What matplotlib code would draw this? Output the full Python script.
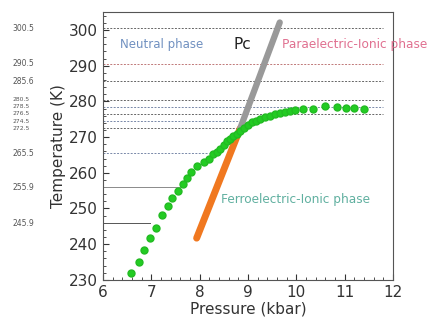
import numpy as np
import matplotlib
matplotlib.use('Agg')
import matplotlib.pyplot as plt
from matplotlib.ticker import MultipleLocator

# 相転移点 (green dots)
p_green = [6.59, 6.75, 6.85, 6.97, 7.10, 7.22, 7.35, 7.44, 7.55, 7.66, 7.75, 7.83,
           7.94, 8.09, 8.20, 8.28, 8.36, 8.42, 8.50, 8.56, 8.63, 8.70, 8.77, 8.84,
           8.92, 9.00, 9.08, 9.16, 9.25, 9.35, 9.46, 9.56, 9.66, 9.76, 9.87, 9.97,
           10.15, 10.35, 10.60, 10.84, 11.04, 11.20, 11.40]
t_green = [232.0, 235.1, 238.4, 241.6, 244.6, 248.1, 250.7, 253.0, 254.9, 256.8, 258.5, 260.1,
           261.9, 262.9, 264.0, 265.2, 265.8, 266.6, 267.8, 268.9, 269.6, 270.3, 270.9, 271.6,
           272.5, 273.4, 274.1, 274.6, 275.0, 275.5, 275.9, 276.4, 276.8, 277.1, 277.4, 277.7,
           277.9, 278.0, 278.6, 278.4, 278.2, 278.2, 277.9]

# 直線 (orange: ferro boundary, gray: neutral/para boundary)
p_orange = [7.94, 8.84]
t_orange = [241.7, 272.4]
p_gray = [8.84, 9.66]
t_gray = [272.4, 302.1]

# 参照温度線
ref_temps = [300.5, 290.5, 285.6, 280.5, 278.5, 276.5, 274.5, 272.5, 265.5, 255.9, 245.9]
ref_xmax = [11.8, 11.8, 11.8, 11.8, 11.8, 11.8, 8.8, 8.8, 8.2, 7.6, 6.97]
ref_style = ['--', '--', '--', '--', '--', '--', '--', '--', '--', '-', '-']
ref_color = ['#666666', '#c07878', '#666666', '#666666', '#7888a8', '#666666', '#7888a8',
             '#666666', '#7888a8', '#8a8a8a', '#555555']

fig = plt.figure(figsize=(4.36, 3.27), dpi=100)
ax = fig.add_axes([0.236, 0.144, 0.665, 0.819])

for t, xm, ls, c in zip(ref_temps, ref_xmax, ref_style, ref_color):
    ax.plot([6, xm], [t, t], ls, color=c, lw=0.7, dashes=(2, 1.5) if ls == '--' else (None, None))

ax.plot(p_orange, t_orange, color='#f07820', lw=5, solid_capstyle='round', zorder=3)
ax.plot(p_gray, t_gray, color='#999999', lw=4.5, solid_capstyle='round', zorder=3)
ax.plot(p_green, t_green, 'o', color='#22cc22', ms=5, mec='#22bb22', zorder=4)

ax.set_xlim(6, 12)
ax.set_ylim(230, 305)
ax.xaxis.set_major_locator(MultipleLocator(1))
ax.xaxis.set_minor_locator(MultipleLocator(0.2))
ax.yaxis.set_major_locator(MultipleLocator(10))
ax.yaxis.set_minor_locator(MultipleLocator(2))
ax.tick_params(which='both', direction='in', labelsize=11, colors='#333333')
ax.tick_params(which='major', length=4)
ax.tick_params(which='minor', length=2)
for s in ax.spines.values():
    s.set_color('#555555')

ax.set_xlabel('Pressure (kbar)', fontsize=11, color='#333333', labelpad=1)
ax.set_ylabel('Temperature (K)', fontsize=11, color='#333333', labelpad=2)

ax.text(6.35, 295.8, 'Neutral phase', color='#7090c0', fontsize=8.5, va='center')
ax.text(8.7, 295.8, 'Pc', color='#222222', fontsize=11, va='center')
ax.text(9.7, 295.8, 'Paraelectric-Ionic phase', color='#e07090', fontsize=8.7,
        va='center', clip_on=False)
ax.text(8.45, 252.5, 'Ferroelectric-Ionic phase', color='#60b0a0', fontsize=8.7, va='center')

# 左側の温度ラベル（密集部分は小さく）
for t in ref_temps:
    fs = 4.3 if 271 < t < 282 else 5.5
    fig.text(0.028, ax.transData.transform((6, t))[1] / fig.bbox.height, f'{t}',
             fontsize=fs, color='#555555', va='center')

fig.savefig('out.png', dpi=100)
